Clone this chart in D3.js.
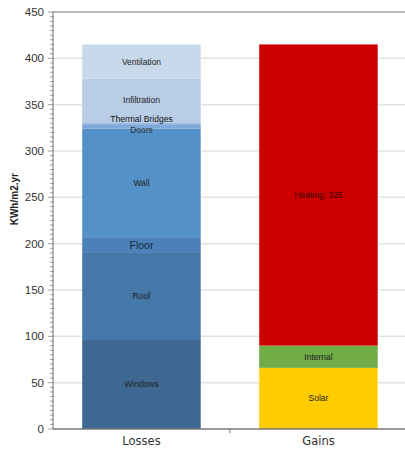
<!DOCTYPE html>
<html>
<head>
<meta charset="utf-8">
<script src="https://cdnjs.cloudflare.com/ajax/libs/d3/7.8.5/d3.min.js"></script>
<style>
  html, body { margin: 0; padding: 0; background: #fff; }
  svg { display: block; }
</style>
</head>
<body>
<svg id="chart" width="405" height="455"></svg>
<script>
// Annual heat balance: losses vs. gains (kWh/m2.yr)
const categories = ["Losses", "Gains"];

const lossNames  = ["Windows", "Roof", "Floor", "Wall", "Doors", "Thermal Bridges", "Infiltration", "Ventilation"];
const lossValues = [96, 94, 17, 117, 5, 2, 47, 37];
const lossColors = ["#3e6891", "#4677a9", "#4b80b9", "#5591c9", "#7ea9d8", "#9fbde2", "#b9cde6", "#c9d9ec"];

const gainNames  = ["Solar", "Internal", "Heating"];
const gainValues = [66, 24, 325];
const gainLabels = ["Solar", "Internal", "Heating, 325"];
const gainColors = ["#ffcc00", "#70ad47", "#cc0000"];

const yTicks = [0, 50, 100, 150, 200, 250, 300, 350, 400, 450];
const yTitle = "KWh/m2.yr";

const svg = d3.select("#chart");
const margin = { left: 53, right: -2, top: 12, bottom: 26 };
const W = 405, H = 455;
const plotBottom = H - margin.bottom;

const x = d3.scaleBand().domain(categories).range([margin.left, W - margin.right]).paddingInner(0.33).paddingOuter(0.165);
const y = d3.scaleLinear().domain([0, 450]).range([plotBottom, margin.top]);

// horizontal gridlines
svg.append("g").selectAll("line").data(yTicks.slice(1, -1)).join("line")
  .attr("x1", margin.left).attr("x2", W)
  .attr("y1", d => y(d)).attr("y2", d => y(d))
  .attr("stroke", "#e2e2e2").attr("stroke-width", 1.5);

// top frame line
svg.append("line").attr("x1", margin.left).attr("x2", W)
  .attr("y1", y(450)).attr("y2", y(450))
  .attr("stroke", "#a0a0a0").attr("stroke-width", 1.5);

function stackOf(names, values, colors, labels) {
  let acc = 0;
  return names.map((n, i) => {
    const d = { name: n, label: labels ? labels[i] : n, y0: acc, y1: acc + values[i], color: colors[i] };
    acc += values[i];
    return d;
  });
}
const lossStack = stackOf(lossNames, lossValues, lossColors);
const gainStack = stackOf(gainNames, gainValues, gainColors, gainLabels);

function drawBar(cat, stack, labelStyle) {
  const g = svg.append("g");
  g.selectAll("rect").data(stack).join("rect")
    .attr("x", x(cat)).attr("width", x.bandwidth())
    .attr("y", d => y(d.y1)).attr("height", d => y(d.y0) - y(d.y1))
    .attr("fill", d => d.color);
  // soft light edge on right of bar
  g.append("line")
    .attr("x1", x(cat) + x.bandwidth() + 0.5).attr("x2", x(cat) + x.bandwidth() + 0.5)
    .attr("y1", y(stack[stack.length - 1].y1)).attr("y2", y(0))
    .attr("stroke", "#ffffff").attr("stroke-opacity", 0.5).attr("stroke-width", 1);
  g.selectAll("text").data(stack).join("text")
    .attr("x", x(cat) + x.bandwidth() / 2)
    .attr("y", d => labelStyle(d).y !== undefined ? labelStyle(d).y : y((d.y0 + d.y1) / 2))
    .attr("dy", "0.35em")
    .attr("text-anchor", "middle")
    .attr("font-family", "'Liberation Sans', Arial, sans-serif")
    .attr("font-size", d => labelStyle(d).size)
    .attr("fill", d => labelStyle(d).color)
    .text(d => d.label);
}

drawBar("Losses", lossStack, d => {
  if (d.name === "Floor") return { size: 10.5, color: "#1a2a3a" };
  if (d.name === "Thermal Bridges") return { size: 8.5, color: "#111", y: y(d.y1) - 3 };
  if (d.name === "Doors") return { size: 8.5, color: "#333", y: y(d.y0) + 1 };
  return { size: 8.5, color: "#222" };
});
drawBar("Gains", gainStack, d => ({ size: 8.5, color: d.name === "Heating" ? "#3a0000" : "#222" }));

// y axis
const yAxis = svg.append("g").attr("transform", `translate(${margin.left},0)`);
yAxis.append("line").attr("x1", 0).attr("x2", 0).attr("y1", y(450)).attr("y2", y(0))
  .attr("stroke", "#888").attr("stroke-width", 1.2);
const minor = d3.range(0, 451, 5);
yAxis.selectAll("line.minor").data(minor).join("line").attr("class", "minor")
  .attr("x1", d => yTicks.includes(d) ? -5 : -3).attr("x2", 1)
  .attr("y1", d => y(d)).attr("y2", d => y(d))
  .attr("stroke", "#888").attr("stroke-width", 0.8);
yAxis.selectAll("text").data(yTicks).join("text")
  .attr("x", -9).attr("y", d => y(d)).attr("dy", "0.35em")
  .attr("text-anchor", "end")
  .attr("font-family", "'Liberation Sans', Arial, sans-serif")
  .attr("font-size", 11.5).attr("fill", "#333")
  .text(d => d);

// y title
svg.append("text")
  .attr("transform", `translate(18,${y(248)}) rotate(-90)`)
  .attr("text-anchor", "middle")
  .attr("font-family", "'Liberation Sans', Arial, sans-serif")
  .attr("font-size", 10).attr("font-weight", "bold").attr("fill", "#222")
  .text(yTitle);

// x axis
const xAxis = svg.append("g");
xAxis.append("line").attr("x1", margin.left).attr("x2", W).attr("y1", plotBottom).attr("y2", plotBottom)
  .attr("stroke", "#777").attr("stroke-width", 1.5);
const step = x.step();
xAxis.append("line")
  .attr("x1", x("Losses") + x.bandwidth() + (step - x.bandwidth()) / 2)
  .attr("x2", x("Losses") + x.bandwidth() + (step - x.bandwidth()) / 2)
  .attr("y1", plotBottom).attr("y2", plotBottom + 4)
  .attr("stroke", "#777");
xAxis.selectAll("text").data(categories).join("text")
  .attr("x", d => x(d) + x.bandwidth() / 2).attr("y", plotBottom + 16)
  .attr("text-anchor", "middle")
  .attr("font-family", "'DejaVu Sans', sans-serif")
  .attr("font-size", 11.5).attr("fill", "#333")
  .text(d => d);
</script>
</body>
</html>
